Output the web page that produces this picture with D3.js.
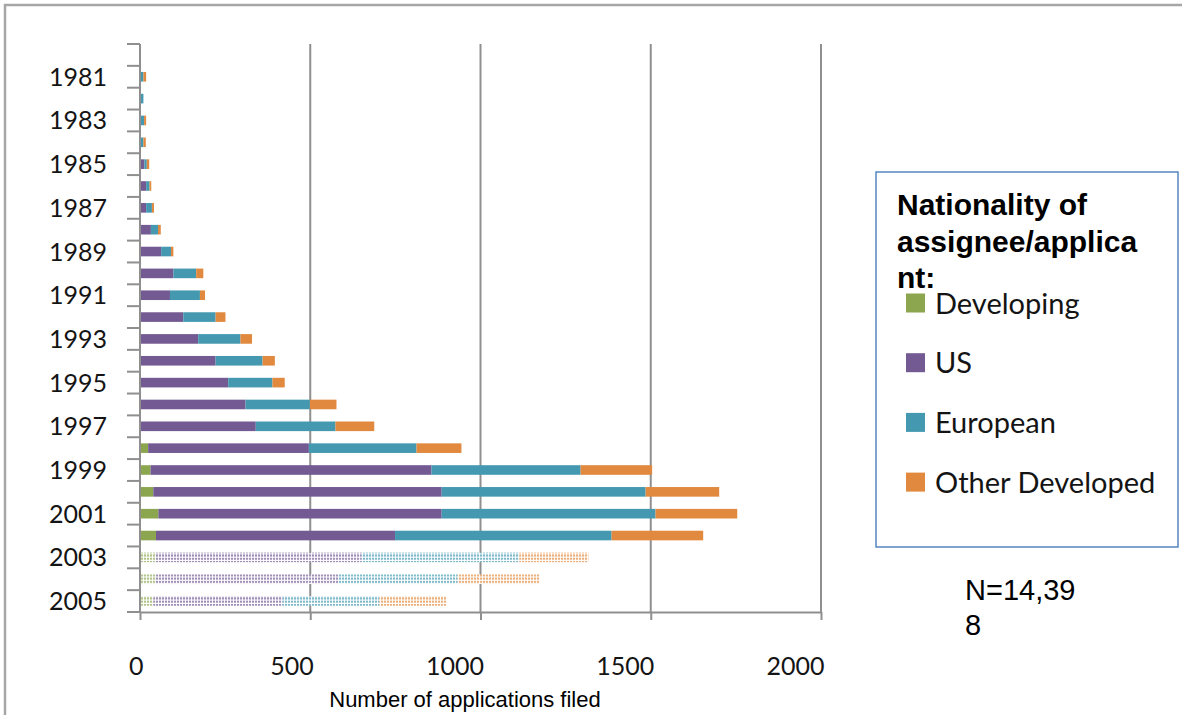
<!DOCTYPE html>
<html>
<head>
<meta charset="utf-8">
<script src="https://cdn.jsdelivr.net/npm/d3@7"></script>
<style>
  html, body { margin: 0; padding: 0; background: #fff; }
  svg { display: block; }
</style>
</head>
<body>
<svg id="chart" width="1182" height="715"></svg>
<script>
// Patent applications filed per year, by nationality of assignee/applicant
const years = [1980, 1981, 1982, 1983, 1984, 1985, 1986, 1987, 1988, 1989,
               1990, 1991, 1992, 1993, 1994, 1995, 1996, 1997, 1998, 1999,
               2000, 2001, 2002, 2003, 2004, 2005];
const developing     = [0, 0, 0, 0, 0, 0, 0, 0, 0, 0,
                        0, 0, 0, 0, 0, 0, 0, 0, 24, 31,
                        39, 54, 47, 44, 44, 39];
const us             = [0, 0, 0, 0, 0, 13, 18, 18, 32, 62,
                        98, 88, 127, 171, 222, 259, 310, 340, 472, 825,
                        847, 832, 702, 607, 538, 380];
const european       = [0, 10, 10, 12, 10, 7, 10, 17, 21, 29,
                        67, 88, 95, 124, 138, 130, 189, 234, 316, 438,
                        599, 628, 636, 463, 351, 284];
const otherDeveloped = [0, 8, 0, 6, 7, 7, 5, 6, 8, 7,
                        21, 15, 29, 34, 36, 36, 78, 114, 132, 210,
                        216, 240, 269, 203, 240, 198];

const seriesNames = ["Developing", "US", "European", "Other Developed"];
const seriesColors = ["#8ca64f", "#735a93", "#4499b1", "#e1893e"];
const xTickValues = [0, 500, 1000, 1500, 2000];
const yLabelYears = [1981, 1983, 1985, 1987, 1989, 1991, 1993, 1995, 1997,
                     1999, 2001, 2003, 2005];
// Recent years with incomplete filings, drawn with a light pattern
const partialYears = [2003, 2004, 2005];

const legendTitleLines = ["Nationality of", "assignee/applica", "nt:"];
const noteLines = ["N=14,39", "8"];
const xAxisTitle = "Number of applications filed";

const rows = years.map((yr, i) => ({
  year: yr,
  "Developing": developing[i],
  "US": us[i],
  "European": european[i],
  "Other Developed": otherDeveloped[i]
}));

const svg = d3.select("#chart");
const gridColor = "#8f8f8f";
const labelFont = "Lato, 'Open Sans', sans-serif";
const labelColor = "#141414";

// Outer chart frame
svg.append("rect")
  .attr("x", 5).attr("y", 5)
  .attr("width", 1300).attr("height", 800)
  .attr("fill", "none")
  .attr("stroke", "#a6a6a6")
  .attr("stroke-width", 2.5);

const plot = { left: 140, right: 821, top: 44, bottom: 612 };

const x = d3.scaleLinear().domain([0, 2000]).range([plot.left, plot.right]);
const y = d3.scaleBand()
  .domain(years)
  .range([plot.top, plot.bottom])
  .paddingInner(0.56)
  .paddingOuter(0.28);

// Fill patterns for the partial years
const defs = svg.append("defs");
seriesNames.forEach((name, i) => {
  const p = defs.append("pattern")
    .attr("id", "pat" + i)
    .attr("patternUnits", "userSpaceOnUse")
    .attr("width", 3).attr("height", 3.3);
  p.append("rect").attr("width", 3).attr("height", 3.3).attr("fill", "#fff");
  p.append("rect").attr("width", 2.1).attr("height", 2.2)
    .attr("fill", seriesColors[i]).attr("fill-opacity", 0.68);
});

// Vertical gridlines
svg.append("g")
  .selectAll("line")
  .data(xTickValues.filter(v => v > 0))
  .join("line")
  .attr("x1", d => x(d)).attr("x2", d => x(d))
  .attr("y1", plot.top).attr("y2", plot.bottom)
  .attr("stroke", gridColor)
  .attr("stroke-width", 2);

// Stacked bars
const stacked = d3.stack().keys(seriesNames)(rows);
svg.append("g")
  .selectAll("g")
  .data(stacked)
  .join("g")
  .each(function (layer, si) {
    d3.select(this).selectAll("rect")
      .data(layer.filter(d => d[1] - d[0] > 0))
      .join("rect")
      .attr("x", d => x(d[0]))
      .attr("y", d => y(d.data.year))
      .attr("width", d => x(d[1]) - x(d[0]))
      .attr("height", y.bandwidth())
      .attr("fill", d => partialYears.includes(d.data.year)
        ? "url(#pat" + si + ")" : seriesColors[si]);
  });

// Category axis: line, boundary ticks and labels
const yAxis = svg.append("g");
yAxis.append("line")
  .attr("x1", plot.left).attr("x2", plot.left)
  .attr("y1", plot.top).attr("y2", plot.bottom + 1)
  .attr("stroke", gridColor).attr("stroke-width", 2);
yAxis.selectAll("line.btick")
  .data(d3.range(years.length + 1))
  .join("line")
  .attr("class", "btick")
  .attr("x1", plot.left - 13).attr("x2", plot.left)
  .attr("y1", i => plot.top + i * y.step())
  .attr("y2", i => plot.top + i * y.step())
  .attr("stroke", gridColor).attr("stroke-width", 2);

const yLabels = svg.append("g")
  .attr("transform", `translate(${plot.left},0)`)
  .call(d3.axisLeft(y).tickValues(yLabelYears).tickSize(0).tickPadding(33));
yLabels.select(".domain").remove();
yLabels.selectAll("text")
  .attr("font-family", labelFont)
  .attr("font-size", 25)
  .attr("fill", labelColor)
  .attr("dy", "0.36em");

// Value axis
const xAxis = svg.append("g")
  .attr("transform", `translate(0,${plot.bottom})`)
  .call(d3.axisBottom(x).tickValues(xTickValues).tickFormat(d3.format("d"))
    .tickSize(8).tickSizeOuter(0));
xAxis.select(".domain").attr("stroke", gridColor).attr("stroke-width", 2);
xAxis.selectAll(".tick line").attr("stroke", gridColor).attr("stroke-width", 2);
xAxis.selectAll("text")
  .attr("font-family", labelFont)
  .attr("font-size", 25)
  .attr("fill", labelColor)
  .attr("text-anchor", "end")
  .attr("x", 3)
  .attr("y", 63)
  .attr("dy", 0);

svg.append("text")
  .attr("x", 465).attr("y", 707)
  .attr("text-anchor", "middle")
  .attr("font-family", "'Liberation Sans', Arial, sans-serif")
  .attr("font-size", 22)
  .attr("fill", "#000")
  .text(xAxisTitle);

// Legend
const legend = svg.append("g");
legend.append("rect")
  .attr("x", 876).attr("y", 172)
  .attr("width", 302).attr("height", 375)
  .attr("fill", "#fff")
  .attr("stroke", "#4a7ebb")
  .attr("stroke-width", 1.4);

legend.selectAll("text.title")
  .data(legendTitleLines)
  .join("text")
  .attr("class", "title")
  .attr("x", 897)
  .attr("y", (d, i) => 215 + i * 36.5)
  .attr("font-family", "'Liberation Sans', Arial, sans-serif")
  .attr("font-weight", "bold")
  .attr("font-size", 30)
  .attr("fill", "#000")
  .text(d => d);

const entries = legend.selectAll("g.entry")
  .data(seriesNames)
  .join("g")
  .attr("class", "entry")
  .attr("transform", (d, i) => `translate(906,${303 + i * 59.7})`);
entries.append("rect")
  .attr("x", 0).attr("y", -9.5)
  .attr("width", 19).attr("height", 19)
  .attr("fill", (d, i) => seriesColors[i]);
entries.append("text")
  .attr("x", 29).attr("y", 10.5)
  .attr("font-family", labelFont)
  .attr("font-size", 29)
  .attr("fill", labelColor)
  .text(d => d);

// Sample size note
svg.append("g").selectAll("text")
  .data(noteLines)
  .join("text")
  .attr("x", 965)
  .attr("y", (d, i) => 600 + i * 35)
  .attr("font-family", "'Liberation Sans', Arial, sans-serif")
  .attr("font-size", 29)
  .attr("fill", "#000")
  .text(d => d);
</script>
</body>
</html>
